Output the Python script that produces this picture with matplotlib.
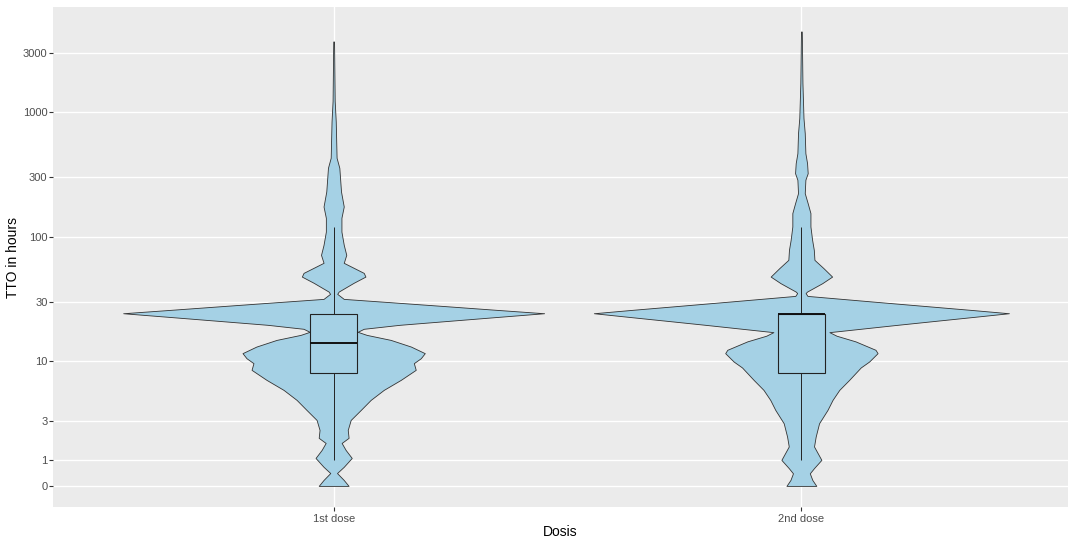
import numpy as np
import matplotlib
matplotlib.use("Agg")
import matplotlib.pyplot as plt
from matplotlib.patches import Rectangle
from matplotlib.ticker import NullLocator

plt.rcParams['font.family'] = ['Liberation Sans', 'DejaVu Sans']

doses = ["1st dose", "2nd dose"]

# violin outline: hours and relative density (1 = widest)
dose1_hours = [0, 0.22, 0.48, 0.72, 1.08, 1.43, 1.76, 2.02, 2.46, 3.09, 3.83, 4.70,
               5.73, 6.96, 8.43, 9.57, 10.5, 11.55, 13.07, 14.8, 16.25, 17.2, 18.2,
               19.6, 21.1, 22.7, 24.3, 25.86, 27.85, 30.0, 31.7, 34.8, 36.3, 42.7,
               47.9, 51.3, 61.8, 71.6, 86.2, 110, 142, 175, 231, 358, 431, 842,
               1234, 3698]
dose1_density = [0.071, 0.048, 0.016, 0.048, 0.086, 0.057, 0.038, 0.071, 0.067, 0.081,
                 0.129, 0.176, 0.238, 0.319, 0.390, 0.381, 0.414, 0.433, 0.367, 0.271,
                 0.157, 0.114, 0.143, 0.314, 0.548, 0.781, 1.0, 0.776, 0.514, 0.248,
                 0.048, 0.017, 0.024, 0.095, 0.151, 0.143, 0.048, 0.060, 0.048, 0.037,
                 0.037, 0.048, 0.035, 0.027, 0.014, 0.010, 0.005, 0.002]

dose2_hours = [0, 0.22, 0.47, 0.67, 1.0, 1.59, 2.09, 2.87, 3.83, 4.70, 5.73, 6.96,
               8.82, 9.87, 11.55, 12.3, 14.4, 16.0, 17.1, 18.2, 19.6, 21.1, 22.7,
               24.3, 25.86, 27.85, 30.0, 33.5, 35.3, 36.3, 42.4, 47.9, 56, 65.3,
               78.6, 94.5, 121, 155, 186, 224, 287, 324, 390, 469, 679, 897, 1721,
               4447]
dose2_density = [0.071, 0.052, 0.040, 0.060, 0.095, 0.060, 0.068, 0.084, 0.124, 0.148,
                 0.180, 0.227, 0.282, 0.322, 0.362, 0.352, 0.257, 0.167, 0.133, 0.281,
                 0.457, 0.638, 0.819, 0.986, 0.805, 0.581, 0.357, 0.029, 0.020, 0.027,
                 0.099, 0.146, 0.105, 0.062, 0.059, 0.051, 0.043, 0.043, 0.030, 0.016,
                 0.019, 0.030, 0.027, 0.019, 0.016, 0.010, 0.005, 0.002]

# box stats: lower whisker, q1, median, q3, upper whisker
dose1_box = [1, 8, 14, 24, 120]
dose2_box = [1, 8, 24, 24, 120]

y_ticks = [0, 1, 3, 10, 30, 100, 300, 1000, 3000]

fill = '#A5D1E5'

fig = plt.figure(figsize=(10.7, 5.41), dpi=100)
ax = fig.add_axes([53 / 1070, 34 / 541, 1015 / 1070, 500 / 541])
ax.set_facecolor('#EBEBEB')
ax.set_yscale('asinh', linear_width=2)

violins = [(dose1_hours, dose1_density), (dose2_hours, dose2_density)]
for i, (h, d) in enumerate(violins):
    x = i + 1
    w = 0.45 * np.array(d)
    ax.fill_betweenx(h, x - w, x + w, facecolor=fill, edgecolor='#333333',
                     linewidth=0.6, zorder=2)

for i, b in enumerate([dose1_box, dose2_box]):
    x = i + 1
    lo, q1, med, q3, hi = b
    ax.vlines(x, q3, hi, color='#222222', linewidth=0.7, zorder=3)
    ax.vlines(x, lo, q1, color='#222222', linewidth=0.7, zorder=3)
    ax.add_patch(Rectangle((x - 0.05, q1), 0.1, q3 - q1, facecolor=fill,
                           edgecolor='#222222', linewidth=0.8, zorder=4))
    ax.hlines(med, x - 0.05, x + 0.05, color='#111111', linewidth=1.4, zorder=5)

ax.set_xlim(0.4, 2.57)
ax.set_ylim(-0.8, 7000)
ax.set_xticks([1, 2])
ax.set_xticklabels(doses)
ax.set_yticks(y_ticks)
ax.set_yticklabels([str(t) for t in y_ticks])
ax.yaxis.set_minor_locator(NullLocator())

ax.grid(True, color='white', linewidth=1.0)
ax.set_axisbelow(True)
for s in ax.spines.values():
    s.set_visible(False)

ax.tick_params(length=3, width=0.8, color='#333333', labelcolor='#4D4D4D',
               labelsize=8, pad=2)
ax.tick_params(axis='y', pad=1)
ax.set_xlabel('Dosis', fontsize=10, color='black', labelpad=1)
ax.set_ylabel('TTO in hours', fontsize=10, color='black', labelpad=2)

fig.savefig('out.png', dpi=100)
